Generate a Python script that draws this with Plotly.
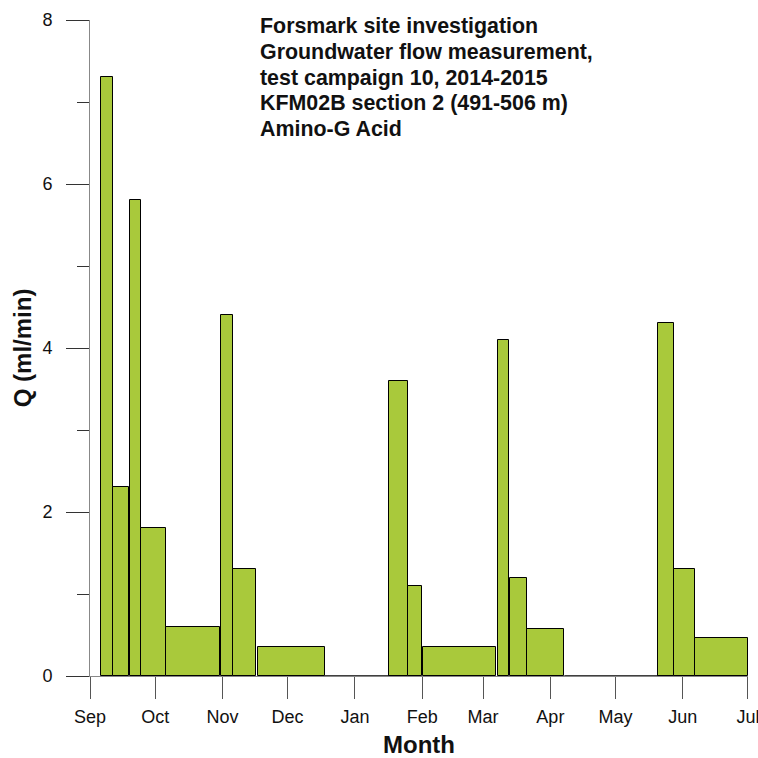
import pandas as pd
import plotly.graph_objects as go

# Measurement intervals (start, end) and flow Q (ml/min)
starts = ["2014-09-06 04:00", "2014-09-11 17:00", "2014-09-19 07:00", "2014-09-24 17:00",
          "2014-10-06 05:00", "2014-10-31 12:00", "2014-11-06 00:00", "2014-11-17 05:00",
          "2015-01-16 19:00", "2015-01-25 12:00", "2015-02-01 10:00", "2015-03-07 17:00",
          "2015-03-13 07:00", "2015-03-21 10:00", "2015-05-20 19:00", "2015-05-28 02:00",
          "2015-06-06 17:00"]
ends = ["2014-09-11 12:00", "2014-09-18 22:00", "2014-09-24 14:00", "2014-10-05 22:00",
        "2014-10-30 22:00", "2014-11-05 22:00", "2014-11-16 07:00", "2014-12-18 02:00",
        "2015-01-25 12:00", "2015-02-01 02:00", "2015-03-06 22:00", "2015-03-13 02:00",
        "2015-03-21 02:00", "2015-04-07 10:00", "2015-05-28 00:00", "2015-06-06 10:00",
        "2015-07-01 00:00"]
q_values = [7.3, 2.3, 5.8, 1.8, 0.6, 4.4, 1.3, 0.35, 3.6, 1.1, 0.35, 4.1, 1.2, 0.57, 4.3, 1.3, 0.46]

# Periods with zero flow
zero_starts = ["2014-12-18 02:00", "2015-04-07 10:00"]
zero_ends = ["2015-01-16 19:00", "2015-05-20 19:00"]

month_ticks = ["2014-09-01", "2014-10-01", "2014-11-01", "2014-12-01", "2015-01-01",
               "2015-02-01", "2015-03-01", "2015-04-01", "2015-05-01", "2015-06-01", "2015-07-01"]
month_labels = ["Sep", "Oct", "Nov", "Dec", "Jan", "Feb", "Mar", "Apr", "May", "Jun", "Jul"]

title_lines = ["Forsmark site investigation",
               "Groundwater flow measurement,",
               "test campaign 10, 2014-2015",
               "KFM02B section 2 (491-506 m)",
               "Amino-G Acid"]

s = pd.to_datetime(starts)
e = pd.to_datetime(ends)
widths_ms = [(b - a).total_seconds() * 1000 for a, b in zip(s, e)]

FONT = "Liberation Sans, Arial, sans-serif"

fig = go.Figure()
fig.add_trace(go.Bar(
    x=starts, y=q_values, width=widths_ms, offset=0,
    marker=dict(color="#a9c93b", line=dict(color="black", width=1)),
    showlegend=False, hoverinfo="skip",
))
for zs, ze in zip(zero_starts, zero_ends):
    fig.add_trace(go.Scatter(x=[zs, ze], y=[0, 0], mode="lines",
                             line=dict(color="black", width=1.5),
                             showlegend=False, hoverinfo="skip"))

annotations = []
plot_h = 656.0
first_line_px = 26.0
for i, line in enumerate(title_lines):
    y_px = first_line_px + i * 25.75
    annotations.append(dict(
        text="<b>%s</b>" % line, xref="paper", yref="paper",
        x=0.255, y=(676 - y_px) / plot_h,
        xanchor="left", yanchor="middle", align="left", showarrow=False,
        font=dict(size=21.4, family=FONT, color="#111")))
annotations += [
    dict(text="<b>Q (ml/min)</b>", xref="paper", yref="paper",
         x=-0.103, y=0.5, xanchor="center", yanchor="middle",
         textangle=-90, showarrow=False,
         font=dict(size=24, family=FONT, color="#111")),
    dict(text="<b>Month</b>", xref="paper", yref="paper",
         x=0.5, y=-0.104, xanchor="center", yanchor="middle",
         showarrow=False, font=dict(size=24, family=FONT, color="#111")),
]

fig.update_layout(
    width=758, height=758,
    margin=dict(l=90, r=10, t=20, b=82, autoexpand=False),
    plot_bgcolor="white", paper_bgcolor="white",
    font=dict(family=FONT, color="#111"),
    bargap=0,
    xaxis=dict(
        type="date", range=["2014-09-01", "2015-07-01 00:20"],
        tickvals=month_ticks, ticktext=month_labels,
        showgrid=False, zeroline=False,
        showline=True, linecolor="#888", linewidth=1,
        ticks="outside", ticklen=22, tickcolor="#555", tickwidth=1,
        tickfont=dict(size=18, family=FONT, color="#111"),
        ticklabelstandoff=2,
        ticklabeloverflow="allow",
        automargin=False,
        layer="below traces",
    ),
    yaxis=dict(
        range=[0, 8], tickvals=[0, 2, 4, 6, 8],
        showgrid=False, zeroline=False,
        showline=True, linecolor="#888", linewidth=1,
        ticks="outside", ticklen=23, tickcolor="#333", tickwidth=1,
        tickfont=dict(size=18, family=FONT, color="#111"),
        ticklabelstandoff=10,
        automargin=False,
        minor=dict(dtick=1, ticks="outside", ticklen=12, tickcolor="#333", tickwidth=1, showgrid=False),
        layer="below traces",
    ),
    annotations=annotations,
)

fig.write_html("out.html")
